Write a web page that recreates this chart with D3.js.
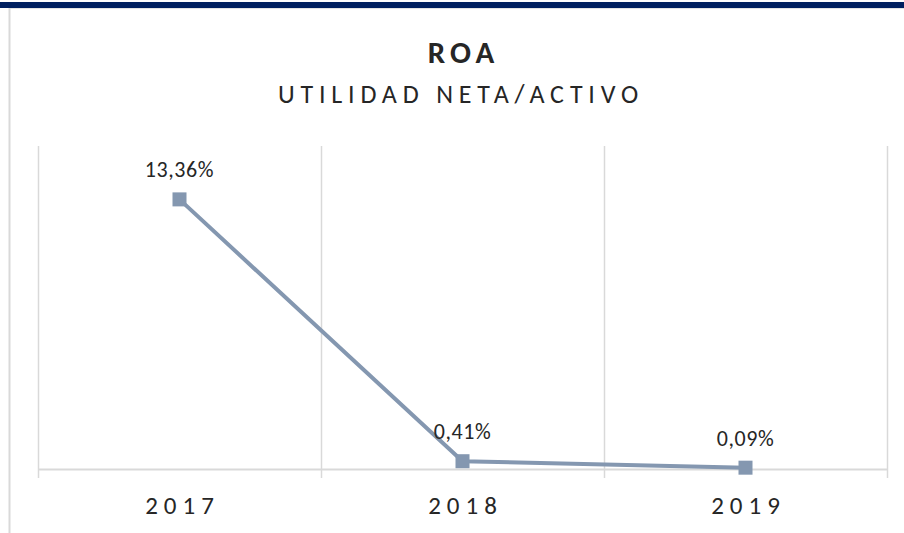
<!DOCTYPE html>
<html>
<head>
<meta charset="utf-8">
<script src="https://cdn.jsdelivr.net/npm/d3@7"></script>
<style>
  html, body { margin: 0; padding: 0; background: #fff; }
  svg { display: block; font-family: Calibri, Carlito, Lato, sans-serif; }
</style>
</head>
<body>
<div id="chart"></div>
<script>
const years = ['2017', '2018', '2019'];
const roa = [13.36, 0.41, 0.09];
const valueLabels = ['13,36%', '0,41%', '0,09%'];

const width = 904, height = 533;
const svg = d3.select('#chart').append('svg')
  .attr('width', width)
  .attr('height', height);

// top band + left frame line
svg.append('rect').attr('x', 0).attr('y', 2).attr('width', width).attr('height', 6).attr('fill', '#002060');
svg.append('line').attr('x1', 9).attr('x2', width).attr('y1', 8.5).attr('y2', 8.5)
  .attr('stroke', '#e3e3e3').attr('stroke-width', 1);
svg.append('line').attr('x1', 9.5).attr('x2', 9.5).attr('y1', 8).attr('y2', height)
  .attr('stroke', '#d9d9d9').attr('stroke-width', 2);

// titles (dx offsets the trailing letter-spacing)
svg.append('text').attr('x', 461).attr('y', 63).attr('dx', 2.5)
  .attr('text-anchor', 'middle')
  .style('font-size', '31px').style('font-weight', 'bold')
  .style('letter-spacing', '5px').attr('fill', '#262626')
  .text('ROA');
svg.append('text').attr('x', 458).attr('y', 103).attr('dx', 3)
  .attr('text-anchor', 'middle')
  .style('font-size', '26px').style('letter-spacing', '5.8px')
  .attr('fill', '#262626')
  .text('UTILIDAD NETA/ACTIVO');

const x = d3.scaleBand().domain(years).range([38, 887]);
const y = d3.scaleLinear().domain([0, 16]).range([469.5, 146]);

// vertical gridlines at category boundaries
const bounds = years.map(d => x(d)).concat([x.range()[1]]);
svg.selectAll('.grid')
  .data(bounds)
  .enter()
  .append('line')
  .attr('x1', d => d + 0.5).attr('x2', d => d + 0.5)
  .attr('y1', y(16)).attr('y2', y(0) + 8.5)
  .attr('stroke', '#d9d9d9').attr('stroke-width', 1.5);

// baseline
svg.append('line')
  .attr('x1', x.range()[0]).attr('x2', x.range()[1])
  .attr('y1', y(0)).attr('y2', y(0))
  .attr('stroke', '#d9d9d9').attr('stroke-width', 2);

// category labels
svg.selectAll('.cat')
  .data(years)
  .enter()
  .append('text')
  .attr('x', d => x(d) + x.bandwidth() / 2 + 3)
  .attr('y', 514)
  .attr('text-anchor', 'middle')
  .style('font-size', '25px').style('letter-spacing', '6px')
  .attr('fill', '#262626')
  .text(d => d);

const pts = years.map((d, i) => ({ year: d, value: roa[i], label: valueLabels[i] }));
const cx = d => x(d.year) + x.bandwidth() / 2;

svg.append('path')
  .datum(pts)
  .attr('d', d3.line().x(cx).y(d => y(d.value)))
  .attr('fill', 'none')
  .attr('stroke', '#8497b0')
  .attr('stroke-width', 4);

const m = 14;
svg.selectAll('.marker')
  .data(pts)
  .enter()
  .append('rect')
  .attr('x', d => cx(d) - m / 2)
  .attr('y', d => y(d.value) - m / 2)
  .attr('width', m).attr('height', m)
  .attr('fill', '#8497b0');

svg.selectAll('.vlabel')
  .data(pts)
  .enter()
  .append('text')
  .attr('x', cx)
  .attr('y', d => y(d.value) - 22)
  .attr('text-anchor', 'middle')
  .style('font-size', '22px').style('letter-spacing', '0.6px')
  .attr('fill', '#262626')
  .text(d => d.label);
</script>
</body>
</html>
